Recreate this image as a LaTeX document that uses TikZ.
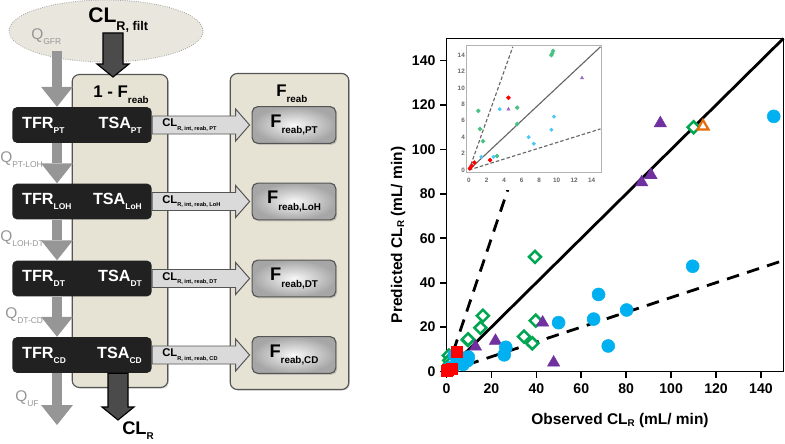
\documentclass[tikz,border=0pt]{standalone}
\usepackage{fontspec}
\setmainfont{Liberation Sans}
\usetikzlibrary{arrows.meta,positioning,calc,shadows,plotmarks}
\definecolor{panelbg}{RGB}{230,227,212}
\definecolor{panelline}{RGB}{85,85,85}
\definecolor{glombg}{RGB}{233,231,221}
\definecolor{qgray}{RGB}{150,150,150}
\definecolor{darkarrow}{RGB}{75,75,75}
\definecolor{clgray}{RGB}{218,218,218}
\definecolor{segblack}{RGB}{33,33,33}
\definecolor{ptblue}{RGB}{0,176,240}
\definecolor{ptgreen}{RGB}{0,166,81}
\definecolor{ptpurple}{RGB}{112,48,160}
\definecolor{ptred}{RGB}{255,0,0}
\definecolor{ptorange}{RGB}{228,108,10}
\newcommand{\lsub}[2][6]{\raisebox{-0.85\height}{\fontsize{#1}{#1}\selectfont #2}}
\newcommand{\asub}[1]{\raisebox{-1.5pt}{\fontsize{7}{7}\selectfont #1}}
\newcommand{\downblock}[2]{%
  \draw[darkblock] ($(#1)+(-10,0)$) -- ($(#2)+(-10,13)$) -- ($(#2)+(-16,13)$) -- (#2)
    -- ($(#2)+(16,13)$) -- ($(#2)+(10,13)$) -- ($(#1)+(10,0)$) -- cycle;}
\newcommand{\rightblock}[2]{%
  \draw[clblock] ($(#1)+(0,9)$) -- ($(#2)+(-14,9)$) -- ($(#2)+(-14,16)$) -- (#2)
    -- ($(#2)+(-14,-16)$) -- ($(#2)+(-14,-9)$) -- ($(#1)+(0,-9)$) -- cycle;}
\tikzset{
  glom/.style={fill=glombg,draw=gray!70,densely dotted,line width=0.6pt},
  panel/.style={draw=panelline,fill=panelbg,rounded corners=5pt,line width=0.8pt,
    drop shadow={opacity=0.3,shadow xshift=0.8pt,shadow yshift=-0.8pt}},
  seg/.style={fill=segblack,rounded corners=3.5pt,text=white,
    font=\bfseries\fontsize{11.5}{12}\selectfont,minimum height=25.5pt,
    text width=85pt,inner xsep=7.1pt,inner ysep=0pt},
  frac/.style={draw=panelline,line width=0.8pt,rounded corners=4pt,
    inner color=gray!5,outer color=gray!70,minimum width=59.5pt,minimum height=26.2pt,
    font=\bfseries\fontsize{13}{14}\selectfont,
    drop shadow={opacity=0.35,shadow xshift=1pt,shadow yshift=-1pt}},
  clblock/.style={fill=clgray,draw=panelline,line width=0.7pt,line join=miter},
  darkblock/.style={fill=darkarrow,draw=black,line width=0.8pt,line join=miter},
  qflow/.style={draw=qgray,line width=7.1pt,
    -{Triangle[width=22.7pt,length=14.2pt,line width=0pt]}},
  qlab/.style={text=qgray,font=\fontsize{11}{12}\selectfont,inner sep=0pt,anchor=base west},
  headlab/.style={font=\bfseries\fontsize{12}{13}\selectfont,inner sep=0pt,anchor=base west},
  cllab/.style={font=\bfseries\fontsize{8}{9}\selectfont,inner sep=0pt,anchor=west},
  ticklab/.style={font=\bfseries\fontsize{10}{11}\selectfont,inner sep=0pt},
  axlab/.style={font=\bfseries\fontsize{11}{12}\selectfont,inner sep=0pt},
  frameline/.style={line width=1.2pt},
  diag/.style={line width=2pt},
  diagdash/.style={line width=2pt,dash pattern=on 9pt off 6pt},
  insetframe/.style={draw=gray!60,line width=0.6pt},
  insetlab/.style={font=\bfseries\fontsize{4.5}{5}\selectfont,text=black!60,inner sep=0pt},
}
\begin{document}
\begin{tikzpicture}[x=0.025cm,y=0.025cm]
\useasboundingbox (0,0) rectangle (785,443);

% kidney scheme
\draw[glom] (106,412) ellipse [x radius=97, y radius=31];
\node[panel,minimum width=68pt,minimum height=222.5pt] (leftpanel) at (120,212) {};
\node[panel,minimum width=84.3pt,minimum height=224.7pt] (rightpanel) at (289.5,211.5) {};

\foreach \s/\y/\a/\b in {pt/318/PT/PT, loh/241.5/LOH/LoH, dt/164.5/DT/DT, cd/88/CD/CD}{
  \node[seg] (\s) at (82,\y) {TFR\lsub{\a}\hfill TSA\lsub{\b}};
  \node[frac] (f\s) at (294,\y) {F\lsub[7]{reab,\b}};
}

% tubular flow
\coordinate (qsrc) at (57,392);
\coordinate (qend) at (57,18);
\draw[qflow] (qsrc) -- (qsrc |- pt.north);
\foreach \a/\b in {pt/loh, loh/dt, dt/cd} \draw[qflow] (qsrc |- \a.south) -- (qsrc |- \b.north);
\draw[qflow] (qsrc |- cd.south) -- (qend);

% reabsorption
\foreach \s/\b in {pt/PT, loh/LoH, dt/DT, cd/CD}{
  \coordinate (tip\s) at ($(f\s.west)+(-2,0)$);
  \rightblock{\s.east}{tip\s}
  \node[cllab] (cl\s) at ($(\s.east)+(10,0)$) {CL\lsub[4]{R, int, reab, \b}};
}

% filtration in, renal clearance out
\coordinate (filttop) at (113,410);
\coordinate (filttip) at (113,366);
\downblock{filttop}{filttip}
\coordinate (clrtip) at (118,23);
\coordinate (clrtop) at (cd.south -| clrtip);
\downblock{clrtop}{clrtip}

\node[headlab,font=\bfseries\fontsize{15}{16}\selectfont] (clfilt) at (88,420) {CL\lsub[9]{R, filt}};
\node[headlab,font=\bfseries\fontsize{13}{14}\selectfont] (clr) at (122,9) {CL\lsub[7]{R}};
\node[headlab] (onemf) at (93,346) {1 - F\lsub[7]{reab}};
\node[headlab] (freab) at (276,346.5) {F\lsub[7]{reab}};
\node[qlab] (qgfr) at (31,404) {Q\lsub{GFR}};
\node[qlab] (qptloh) at (0,280.5) {Q\lsub{PT-LOH}};
\node[qlab] (qlohdt) at (0,201.3) {Q\lsub{LOH-DT}};
\node[qlab] (qdtcd) at (5,124.7) {Q\lsub{DT-CD}};
\node[qlab] (quf) at (15,41.3) {Q\lsub{UF}};

% predicted vs observed
\coordinate (porigin) at (446.5,71.5);
\begin{scope}[shift={(porigin)},x=0.05613cm,y=0.0555cm]
  \draw[frameline] (0,0) rectangle (150,150);
  \foreach \v in {0,20,...,140}{
    \draw[frameline] (\v,0) -- ++(0,-4.3pt) node[ticklab,below=3.5pt] (xt\v) {\v};
    \draw[frameline] (0,\v) -- ++(-4.3pt,0) node[ticklab,left=3pt] (yt\v) {\v};
  }
  \draw[diag] (0,0) -- (150,150);
  \draw[diagdash] (0,0) -- (150,50);
  \draw[diagdash] (0,0) -- (27.5,82.5);
  \draw[ptgreen,line width=1.8pt] plot[only marks,mark=square*,mark size=3pt,
    mark options={rotate=45,fill=white,draw=ptgreen,solid}] coordinates {
    (1.06,7.2) (1.25,5.0) (1.6,3.5) (3.2,1.7) (5.5,5.6) (5.5,7.6) (9.5,14.2) (9.6,14.5)
    (15.1,19.7) (16.2,25.1) (34.5,15.7) (38.2,12.7) (39.4,51.6) (39.7,22.9) (110,110)};
  \draw[ptpurple] plot[only marks,mark=triangle*,mark size=5pt] coordinates {
    (4.5,7.4) (12.9,11.2) (21.8,13.8) (42.8,22) (47.7,4) (86.9,85.2) (91,88.5) (95.2,111.8)};
  \draw[ptblue] plot[only marks,mark=*,mark size=4.6pt] coordinates {
    (3.5,7.4) (9.7,6.5) (9.4,4.9) (6.8,4.0) (7.4,3.2) (1.4,1.6) (2.8,1.6)
    (25.7,7.5) (26.4,10.9) (49.9,22) (65.5,23.6) (67.7,34.7) (72,11.5) (80.2,27.7)
    (109.6,47.4) (145.7,114.9)};
  \draw[ptred] plot[only marks,mark=square*,mark size=3.8pt] coordinates {
    (4.5,8.8) (2.4,1.2) (0.6,0.9) (0.3,0.5) (0.1,0.2)};
  \draw[ptorange,line width=1.6pt] plot[only marks,mark=triangle*,mark size=4.5pt,
    mark options={fill=white,draw=ptorange}] coordinates {(114.2,110.4)};
\end{scope}
\node[axlab] (xtitle) at (620,23) {Observed CL\asub{R} (mL/ min)};
\node[axlab,rotate=90] (ytitle) at (398,208) {Predicted CL\asub{R} (mL/ min)};

% inset 0-15
\fill[white] (453,253) rectangle (606,403);
\coordinate (iorigin) at (469,273);
\begin{scope}[shift={(iorigin)},x=0.219cm,y=0.20525cm]
  \draw[insetframe] (-0.25,-0.25) rectangle (15.1,15.15);
  \foreach \v in {0,2,...,14}{
    \node[insetlab] (ix\v) at (\v,-1.2) {\v};
    \node[insetlab,anchor=east] (iy\v) at (-0.45,\v) {\v};
  }
  \draw[gray!80!black,line width=0.8pt] (0,0) -- (15,15);
  \draw[gray!80!black,line width=0.8pt,dash pattern=on 2.5pt off 1.5pt] (0,0) -- (5,15);
  \draw[gray!80!black,line width=0.8pt,dash pattern=on 2.5pt off 1.5pt] (0,0) -- (15,5);
  \draw[ptgreen!70] plot[only marks,mark=*,mark size=1.4pt] coordinates {
    (1.06,7.2) (1.25,5.0) (1.6,3.5) (3.2,1.7) (5.5,5.6) (5.5,7.6) (9.4,14.0) (9.5,14.2) (9.6,14.5)};
  \draw[ptblue!70] plot[only marks,mark=*,mark size=1.2pt] coordinates {
    (3.5,7.4) (9.7,6.5) (9.4,4.9) (6.8,4.0) (7.4,3.2) (1.4,1.6) (2.8,1.6)};
  \draw[ptred] plot[only marks,mark=*,mark size=1.4pt] coordinates {
    (4.5,8.8) (2.4,1.2) (0.6,0.9) (0.3,0.5) (0.1,0.2)};
  \draw[ptpurple!70] plot[only marks,mark=triangle*,mark size=1.3pt] coordinates {
    (4.5,7.4) (12.9,11.2)};
\end{scope}
\end{tikzpicture}
\end{document}
